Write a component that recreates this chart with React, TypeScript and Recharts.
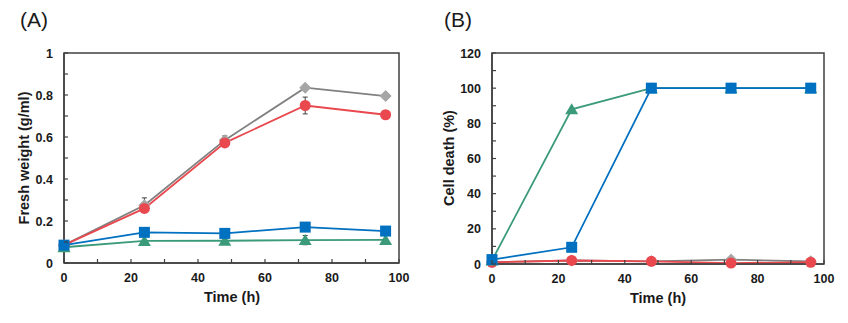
import { LineChart, Line, XAxis, YAxis, ReferenceArea, ErrorBar } from 'recharts'

// sampling times (h)
const hours = [0, 24, 48, 72, 96]

// (A) fresh weight, g/ml
const weightGray = [0.085, 0.275, 0.585, 0.835, 0.795]
const weightGrayErr = [0, 0.035, 0.02, 0.008, 0.008]
const weightRed = [0.085, 0.26, 0.572, 0.75, 0.706]
const weightRedErr = [0, 0.01, 0.012, 0.04, 0.008]
const weightBlue = [0.085, 0.146, 0.141, 0.171, 0.152]
const weightBlueErr = [0, 0.008, 0.008, 0.008, 0.016]
const weightGreen = [0.075, 0.105, 0.106, 0.109, 0.11]
const weightGreenErr = [0, 0.005, 0.005, 0.022, 0.006]

// (B) cell death, %
const deathGray = [1, 2, 1.5, 2.5, 1.5]
const deathRed = [1, 2, 1.5, 0.5, 1]
const deathBlue = [2.5, 9.5, 100, 100, 100]
const deathGreen = [2, 88, 100, 100, 100]

const xTicks = [0, 10, 20, 30, 40, 50, 60, 70, 80, 90, 100]
const yTicksA = [0, 0.1, 0.2, 0.3, 0.4, 0.5, 0.6, 0.7, 0.8, 0.9, 1]
const yLabelsA = ['0', '', '0.2', '', '0.4', '', '0.6', '', '0.8', '', '1']
const yTicksB = [0, 10, 20, 30, 40, 50, 60, 70, 80, 90, 100, 110, 120]

const dataA = hours.map((t, i) => ({
    t,
    gray: weightGray[i], grayErr: weightGrayErr[i],
    red: weightRed[i], redErr: weightRedErr[i],
    blue: weightBlue[i], blueErr: weightBlueErr[i],
    green: weightGreen[i], greenErr: weightGreenErr[i],
}))

const dataB = hours.map((t, i) => ({
    t,
    gray: deathGray[i],
    red: deathRed[i],
    blue: deathBlue[i],
    green: deathGreen[i],
}))

const FONT = "Arial, 'Liberation Sans', sans-serif"
const AXIS = '#404040'
const TEXT = '#1a1a1a'
const LW = 1.8

const COLORS = {
    gray: { line: '#808080', fill: '#a6a6a6' },
    red: { line: '#e8484e', fill: '#e8484e' },
    blue: { line: '#0070c0', fill: '#0070c0' },
    green: { line: '#3a9a7a', fill: '#3a9a7a' },
}

type Shape = 'diamond' | 'circle' | 'square' | 'triangle'

function marker(shape: Shape, fill: string, name: string) {
    return (p: any) => {
        const { cx, cy, index } = p
        const key = `${name}-${index}`
        if (cx == null || cy == null) return <g key={key} />
        if (shape === 'circle') return <circle key={key} cx={cx} cy={cy} r={5.5} fill={fill} />
        if (shape === 'square') return <rect key={key} x={cx - 5.5} y={cy - 5.5} width={11} height={11} fill={fill} />
        if (shape === 'diamond')
            return <polygon key={key} points={`${cx},${cy - 6} ${cx + 6},${cy} ${cx},${cy + 6} ${cx - 6},${cy}`} fill={fill} />
        return <polygon key={key} points={`${cx},${cy - 6} ${cx + 6.5},${cy + 5} ${cx - 6.5},${cy + 5}`} fill={fill} />
    }
}

function xTick(bottom: number) {
    return (p: any) => {
        const v = p.payload.value
        return (
            <g>
                <line x1={p.x} x2={p.x} y1={bottom} y2={bottom - 4} stroke={AXIS} strokeWidth={1.2} />
                {v % 20 === 0 && (
                    <text x={p.x} y={bottom + 19} textAnchor="middle" fontSize={12.5} fontWeight="bold" fill={TEXT} fontFamily={FONT}>
                        {v}
                    </text>
                )}
            </g>
        )
    }
}

function yTick(left: number, label: (v: number, i: number) => string) {
    return (p: any) => {
        const text = label(p.payload.value, p.index)
        return (
            <g>
                <line x1={left} x2={left + 4} y1={p.y} y2={p.y} stroke={AXIS} strokeWidth={1.2} />
                {text !== '' && (
                    <text x={left - 11} y={p.y + 4.5} textAnchor="end" fontSize={12.5} fontWeight="bold" fill={TEXT} fontFamily={FONT}>
                        {text}
                    </text>
                )}
            </g>
        )
    }
}

const titleStyle: React.CSSProperties = {
    position: 'absolute',
    fontFamily: FONT,
    fontWeight: 'bold',
    fontSize: 14.5,
    color: TEXT,
    whiteSpace: 'nowrap',
    transform: 'translate(-50%, -50%)',
}

const panelStyle: React.CSSProperties = {
    position: 'absolute',
    fontFamily: FONT,
    fontSize: 21,
    color: TEXT,
}

const errProps = { stroke: AXIS, strokeWidth: 1, width: 2.5 }

export default function App() {
    return (
        <div style={{ position: 'relative', width: 848, height: 323, background: '#fff' }}>
            <style>{'body{margin:0}'}</style>

            {/* (A) */}
            <div style={{ position: 'absolute', left: 0, top: 0 }}>
                <LineChart width={424} height={323} data={dataA} margin={{ top: 53, right: 25, bottom: 0, left: 0 }}>
                    <XAxis dataKey="t" type="number" domain={[0, 100]} ticks={xTicks} interval={0} height={60}
                        axisLine={{ stroke: AXIS, strokeWidth: 1.5 }} tickLine={false} tick={xTick(263)} />
                    <YAxis type="number" domain={[0, 1]} ticks={yTicksA} interval={0} width={64}
                        axisLine={{ stroke: AXIS, strokeWidth: 1.5 }} tickLine={false}
                        tick={yTick(64, (_v, i) => yLabelsA[i] ?? '')} />
                    <ReferenceArea x1={0} x2={100} y1={0} y2={1} fill="none" stroke={AXIS} strokeWidth={1.5} />
                    <Line dataKey="gray" stroke={COLORS.gray.line} strokeWidth={LW} dot={marker('diamond', COLORS.gray.fill, 'ag')} isAnimationActive={false}>
                        <ErrorBar dataKey="grayErr" {...errProps} />
                    </Line>
                    <Line dataKey="red" stroke={COLORS.red.line} strokeWidth={LW} dot={marker('circle', COLORS.red.fill, 'ar')} isAnimationActive={false}>
                        <ErrorBar dataKey="redErr" {...errProps} />
                    </Line>
                    <Line dataKey="green" stroke={COLORS.green.line} strokeWidth={LW} dot={marker('triangle', COLORS.green.fill, 'agr')} isAnimationActive={false}>
                        <ErrorBar dataKey="greenErr" {...errProps} />
                    </Line>
                    <Line dataKey="blue" stroke={COLORS.blue.line} strokeWidth={LW} dot={marker('square', COLORS.blue.fill, 'ab')} isAnimationActive={false}>
                        <ErrorBar dataKey="blueErr" {...errProps} />
                    </Line>
                </LineChart>
            </div>
            <div style={{ ...panelStyle, left: 20, top: 8 }}>(A)</div>
            <div style={{ ...titleStyle, left: 24, top: 158, transform: 'translate(-50%, -50%) rotate(-90deg)' }}>Fresh weight (g/ml)</div>
            <div style={{ ...titleStyle, left: 232, top: 297 }}>Time (h)</div>

            {/* (B) */}
            <div style={{ position: 'absolute', left: 424, top: 0 }}>
                <LineChart width={424} height={323} data={dataB} margin={{ top: 53, right: 24, bottom: 0, left: 0 }}>
                    <XAxis dataKey="t" type="number" domain={[0, 100]} ticks={xTicks} interval={0} height={59}
                        axisLine={{ stroke: AXIS, strokeWidth: 1.5 }} tickLine={false} tick={xTick(264)} />
                    <YAxis type="number" domain={[0, 120]} ticks={yTicksB} interval={0} width={68}
                        axisLine={{ stroke: AXIS, strokeWidth: 1.5 }} tickLine={false}
                        tick={yTick(68, (v) => (v % 20 === 0 ? String(v) : ''))} />
                    <ReferenceArea x1={0} x2={100} y1={0} y2={120} fill="none" stroke={AXIS} strokeWidth={1.5} />
                    <Line dataKey="gray" stroke={COLORS.gray.line} strokeWidth={LW} dot={marker('diamond', COLORS.gray.fill, 'bg')} isAnimationActive={false} />
                    <Line dataKey="red" stroke={COLORS.red.line} strokeWidth={LW} dot={marker('circle', COLORS.red.fill, 'br')} isAnimationActive={false} />
                    <Line dataKey="green" stroke={COLORS.green.line} strokeWidth={LW} dot={marker('triangle', COLORS.green.fill, 'bgr')} isAnimationActive={false} />
                    <Line dataKey="blue" stroke={COLORS.blue.line} strokeWidth={LW} dot={marker('square', COLORS.blue.fill, 'bb')} isAnimationActive={false} />
                </LineChart>
            </div>
            <div style={{ ...panelStyle, left: 444, top: 8 }}>(B)</div>
            <div style={{ ...titleStyle, left: 449, top: 158, transform: 'translate(-50%, -50%) rotate(-90deg)' }}>Cell death (%)</div>
            <div style={{ ...titleStyle, left: 658, top: 298 }}>Time (h)</div>
        </div>
    )
}
